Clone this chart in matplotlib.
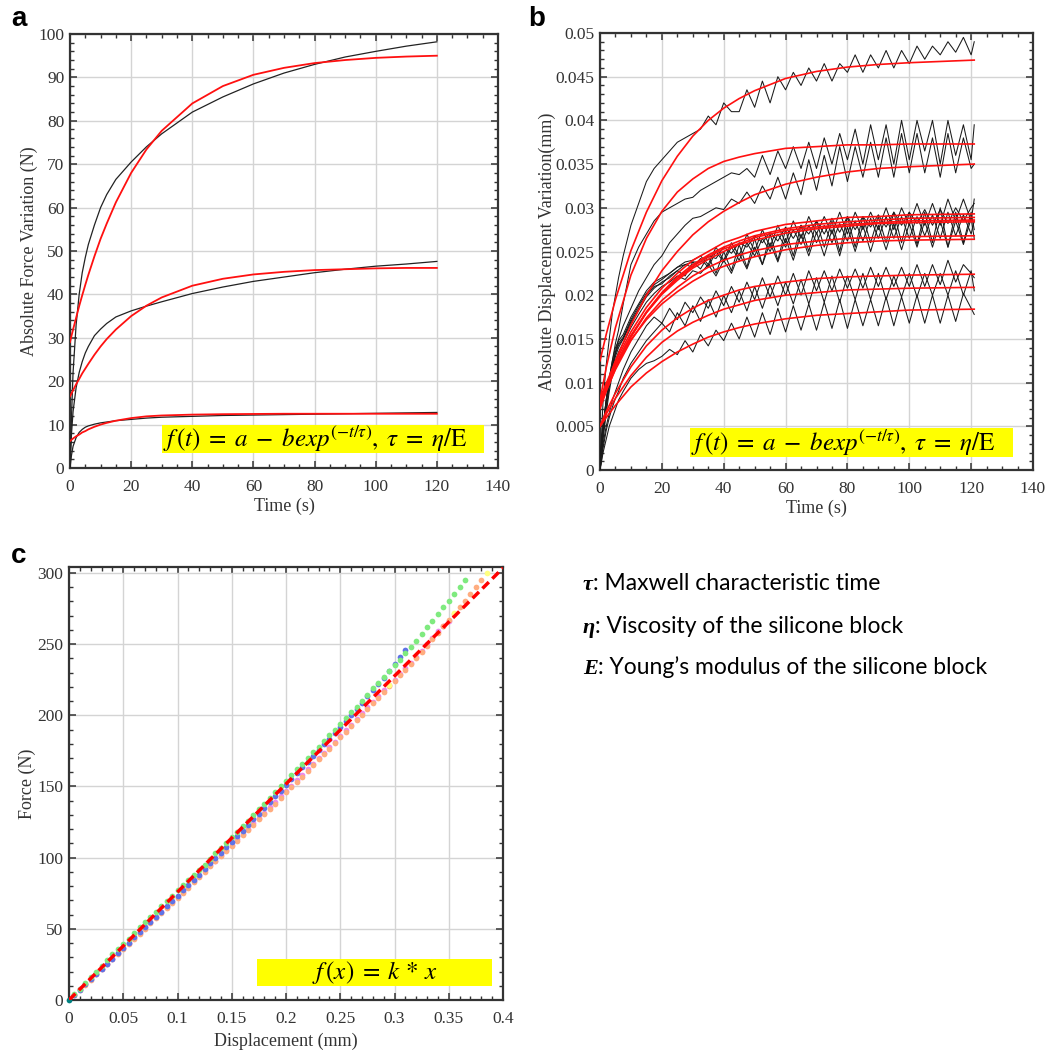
import numpy as np
import matplotlib
matplotlib.use('Agg')
from matplotlib import pyplot as plt
from matplotlib.patches import Rectangle
from matplotlib.ticker import MultipleLocator, FormatStrFormatter

plt.rcParams['font.family'] = 'Liberation Serif'
plt.rcParams['mathtext.fontset'] = 'stix'

# ---- panel a: force relaxation (black = measured, red = fit) ----
t_a = [0, 0.5, 1, 2, 3, 4, 5, 6, 8, 10, 12, 15, 20, 25, 30, 40, 50, 60, 70, 80, 90, 100, 110, 120]
force_meas = [
    [0, 12, 22, 33, 40, 45, 48.5, 51.5, 56, 60, 63, 66.5, 70.5, 74, 77, 82, 85.5, 88.5, 91, 93, 94.7, 96, 97.2, 98.2],
    [0, 8, 13, 18.5, 22, 24.5, 26.5, 28, 30.5, 32, 33.3, 34.8, 36.2, 37.3, 38.3, 40.2, 41.7, 43.0, 44.0, 45.0, 45.8, 46.5, 47.0, 47.6],
    [0, 3, 5, 7, 8.2, 8.9, 9.4, 9.7, 10.1, 10.4, 10.6, 10.9, 11.2, 11.5, 11.7, 11.9, 12.1, 12.2, 12.3, 12.4, 12.5, 12.6, 12.7, 12.8],
]
force_fit = [
    [29.0, 30.5, 31.9, 34.6, 37.3, 39.8, 42.2, 44.5, 48.8, 52.8, 56.3, 61.2, 68.0, 73.4, 77.7, 84.0, 88.0, 90.6, 92.2, 93.3, 94.0, 94.5, 94.8, 95.0],
    [16.5, 17.2, 17.9, 19.3, 20.5, 21.8, 22.9, 24.0, 26.1, 28.0, 29.7, 31.9, 35.0, 37.4, 39.3, 42.0, 43.6, 44.6, 45.2, 45.6, 45.8, 46.0, 46.1, 46.1],
    [6.2, 6.5, 6.8, 7.3, 7.7, 8.2, 8.5, 8.9, 9.5, 10.0, 10.4, 10.9, 11.5, 11.9, 12.1, 12.3, 12.4, 12.45, 12.5, 12.5, 12.5, 12.5, 12.5, 12.5],
]

# ---- panel b: displacement creep ----
t_b = [0, 0.5, 1, 2, 3, 4, 5, 6, 7.5,
       10, 12.5, 15, 17.5, 20, 22.5, 25, 27.5, 30, 32.5,
       35, 37.5, 40, 42.5, 45, 47.5, 50, 52.5, 55, 57.5,
       60, 62.5, 65, 67.5, 70, 72.5, 75, 77.5, 80, 82.5,
       85, 87.5, 90, 92.5, 95, 97.5, 100, 102.5, 105, 107.5,
       110, 112.5, 115, 117.5, 120, 121]
disp_meas = [
    [0, 0.004, 0.008, 0.012, 0.015, 0.018, 0.020, 0.022, 0.0245,
     0.028, 0.0305, 0.033, 0.0345, 0.0355, 0.0365, 0.0375, 0.038, 0.0385, 0.039,
     0.0405, 0.0395, 0.042, 0.041, 0.041, 0.0435, 0.0415, 0.0445, 0.042, 0.045,
     0.0435, 0.0455, 0.044, 0.046, 0.0445, 0.0465, 0.0445, 0.0465, 0.0455, 0.0475,
     0.0455, 0.0475, 0.046, 0.048, 0.046, 0.048, 0.0465, 0.0485, 0.047, 0.0485,
     0.0475, 0.049, 0.0478, 0.0495, 0.0475, 0.049],
    [0, 0.003, 0.005, 0.008, 0.0105, 0.0125, 0.0145, 0.016, 0.019,
     0.0235, 0.0255, 0.027, 0.0285, 0.0295, 0.030, 0.0305, 0.031, 0.0312, 0.032,
     0.0325, 0.033, 0.0335, 0.034, 0.0338, 0.0345, 0.0335, 0.036, 0.0338, 0.0365,
     0.0345, 0.037, 0.0345, 0.0375, 0.0345, 0.038, 0.035, 0.0385, 0.0355, 0.039,
     0.035, 0.0395, 0.0355, 0.0395, 0.035, 0.040, 0.0355, 0.040, 0.0365, 0.040,
     0.035, 0.040, 0.036, 0.0395, 0.0355, 0.0395],
    [0, 0.003, 0.005, 0.008, 0.010, 0.012, 0.0135, 0.015, 0.0165,
     0.0185, 0.0205, 0.022, 0.0235, 0.0245, 0.026, 0.027, 0.028, 0.0288, 0.029,
     0.0295, 0.030, 0.0298, 0.031, 0.0305, 0.0318, 0.0305, 0.0325, 0.031, 0.0335,
     0.031, 0.034, 0.0315, 0.0355, 0.032, 0.036, 0.0325, 0.037, 0.033, 0.037,
     0.0335, 0.0375, 0.0335, 0.038, 0.0335, 0.0385, 0.034, 0.0385, 0.034, 0.038,
     0.0335, 0.0385, 0.034, 0.038, 0.0345, 0.035],
    [0, 0.003, 0.005, 0.008, 0.0105, 0.0125, 0.014, 0.0148, 0.0155,
     0.0175, 0.019, 0.0205, 0.0215, 0.022, 0.0225, 0.0232, 0.0238, 0.024, 0.0245,
     0.0235, 0.0255, 0.024, 0.026, 0.0245, 0.027, 0.025, 0.0275, 0.0255, 0.028,
     0.026, 0.0285, 0.0265, 0.029, 0.027, 0.029, 0.027, 0.0295, 0.027, 0.0295,
     0.0275, 0.0295, 0.0275, 0.030, 0.0275, 0.030, 0.028, 0.0305, 0.028, 0.0305,
     0.028, 0.031, 0.0285, 0.031, 0.0285, 0.031],
    [0, 0.002, 0.004, 0.007, 0.0095, 0.0115, 0.013, 0.014, 0.015,
     0.0168, 0.0183, 0.0198, 0.0208, 0.0215, 0.022, 0.0228, 0.0222, 0.0238, 0.023,
     0.0245, 0.0225, 0.025, 0.0228, 0.0258, 0.0232, 0.0265, 0.0235, 0.027, 0.024,
     0.0275, 0.0245, 0.028, 0.025, 0.0285, 0.0255, 0.0285, 0.025, 0.029, 0.0255,
     0.029, 0.026, 0.029, 0.026, 0.0295, 0.026, 0.0295, 0.0258, 0.0295, 0.026,
     0.030, 0.0255, 0.0295, 0.026, 0.0295, 0.0275],
    [0, 0.0025, 0.0045, 0.0075, 0.010, 0.012, 0.0135, 0.0145, 0.0152,
     0.0172, 0.0188, 0.0202, 0.0212, 0.0218, 0.0225, 0.0232, 0.0235, 0.0238, 0.0238,
     0.0245, 0.0242, 0.0255, 0.0248, 0.026, 0.0255, 0.0268, 0.026, 0.0272, 0.0262,
     0.0278, 0.0265, 0.028, 0.027, 0.0285, 0.027, 0.0288, 0.0272, 0.029, 0.0275,
     0.029, 0.0278, 0.0292, 0.0278, 0.0295, 0.028, 0.0295, 0.0282, 0.0298, 0.028,
     0.0298, 0.0282, 0.030, 0.0285, 0.030, 0.0305],
    [0, 0.0015, 0.0035, 0.0065, 0.009, 0.011, 0.0125, 0.0135, 0.0145,
     0.0163, 0.0178, 0.0192, 0.0202, 0.021, 0.0215, 0.0222, 0.0218, 0.0228, 0.0225,
     0.0235, 0.0222, 0.024, 0.0225, 0.0248, 0.023, 0.0255, 0.0235, 0.026, 0.0238,
     0.0265, 0.024, 0.027, 0.0245, 0.0272, 0.0245, 0.0275, 0.0245, 0.0278, 0.025,
     0.028, 0.025, 0.028, 0.0252, 0.0282, 0.0252, 0.0282, 0.0255, 0.0285, 0.0255,
     0.0285, 0.0255, 0.0285, 0.0258, 0.0288, 0.0265],
    [0, 0.002, 0.0045, 0.0075, 0.0098, 0.0118, 0.0133, 0.0143, 0.015,
     0.017, 0.0185, 0.020, 0.021, 0.0213, 0.0222, 0.0228, 0.0235, 0.0232, 0.0242,
     0.0232, 0.025, 0.0238, 0.0255, 0.024, 0.026, 0.0245, 0.0265, 0.025, 0.027,
     0.0255, 0.0275, 0.0258, 0.028, 0.026, 0.028, 0.026, 0.0282, 0.0262, 0.0285,
     0.0262, 0.0288, 0.0265, 0.029, 0.0265, 0.029, 0.0265, 0.029, 0.0268, 0.0292,
     0.0265, 0.0295, 0.0268, 0.0292, 0.027, 0.0285],
    [0, 0.0015, 0.003, 0.005, 0.0065, 0.008, 0.009, 0.010, 0.0115,
     0.0135, 0.015, 0.0165, 0.0175, 0.0168, 0.0185, 0.0172, 0.0192, 0.018, 0.0198,
     0.0185, 0.0205, 0.0188, 0.021, 0.0192, 0.0215, 0.0195, 0.022, 0.0198, 0.0222,
     0.020, 0.0225, 0.020, 0.0228, 0.0205, 0.0228, 0.0205, 0.023, 0.0208, 0.023,
     0.0208, 0.0232, 0.021, 0.0232, 0.021, 0.0232, 0.021, 0.0235, 0.021, 0.0235,
     0.0212, 0.024, 0.0215, 0.0235, 0.0225, 0.022],
    [0, 0.0012, 0.0025, 0.0045, 0.006, 0.0072, 0.0082, 0.009, 0.0105,
     0.0122, 0.0135, 0.0148, 0.0158, 0.0168, 0.0158, 0.018, 0.0165, 0.0188, 0.017,
     0.0195, 0.0175, 0.020, 0.018, 0.0205, 0.0182, 0.021, 0.0185, 0.0212, 0.0188,
     0.0215, 0.019, 0.0218, 0.019, 0.022, 0.0192, 0.0222, 0.0192, 0.0222, 0.0195,
     0.0225, 0.0195, 0.0225, 0.0195, 0.0222, 0.0198, 0.0225, 0.0198, 0.0225, 0.020,
     0.0225, 0.020, 0.0228, 0.020, 0.0228, 0.0205],
    [0, 0.001, 0.002, 0.0035, 0.005, 0.006, 0.007, 0.008, 0.009,
     0.0105, 0.0115, 0.0122, 0.0125, 0.013, 0.0138, 0.0132, 0.0148, 0.0135, 0.0155,
     0.0142, 0.016, 0.0148, 0.0168, 0.015, 0.0175, 0.0152, 0.018, 0.0155, 0.0185,
     0.0158, 0.0188, 0.016, 0.019, 0.016, 0.0192, 0.0162, 0.0195, 0.0162, 0.0195,
     0.0165, 0.0195, 0.0165, 0.0198, 0.0165, 0.0198, 0.0168, 0.020, 0.0168, 0.020,
     0.0168, 0.020, 0.017, 0.0202, 0.0185, 0.0178],
]
t_b_fit = [0, 2, 5, 10, 15, 20, 25, 30, 35, 40, 45, 50, 60, 70, 80, 90, 100, 121]
disp_fit = [
    [0.0125, 0.0155, 0.0195, 0.0251, 0.0295, 0.0331, 0.0359, 0.0382, 0.0400, 0.0414, 0.0425, 0.0434, 0.0448, 0.0456, 0.0461, 0.0464, 0.0466, 0.0469],
    [0.0080, 0.0117, 0.0163, 0.0223, 0.0265, 0.0296, 0.0318, 0.0333, 0.0345, 0.0353, 0.0358, 0.0362, 0.0368, 0.0370, 0.0372, 0.0372, 0.0373, 0.0373],
    [0.0075, 0.0096, 0.0125, 0.0166, 0.0200, 0.0228, 0.0250, 0.0269, 0.0284, 0.0296, 0.0306, 0.0315, 0.0327, 0.0335, 0.0341, 0.0345, 0.0347, 0.0350],
    [0.0080, 0.0099, 0.0124, 0.0158, 0.0186, 0.0208, 0.0225, 0.0240, 0.0250, 0.0260, 0.0266, 0.0273, 0.0281, 0.0285, 0.0289, 0.0290, 0.0292, 0.0293],
    [0.0075, 0.0094, 0.0119, 0.0153, 0.0181, 0.0203, 0.0221, 0.0235, 0.0246, 0.0255, 0.0262, 0.0268, 0.0276, 0.0281, 0.0284, 0.0286, 0.0288, 0.0289],
    [0.0070, 0.0090, 0.0116, 0.0152, 0.0180, 0.0202, 0.0219, 0.0233, 0.0244, 0.0253, 0.0259, 0.0266, 0.0274, 0.0278, 0.0281, 0.0283, 0.0285, 0.0286],
    [0.0078, 0.0097, 0.0121, 0.0154, 0.0180, 0.0201, 0.0217, 0.0231, 0.0241, 0.0250, 0.0258, 0.0263, 0.0271, 0.0276, 0.0279, 0.0282, 0.0283, 0.0284],
    [0.0072, 0.0091, 0.0115, 0.0148, 0.0174, 0.0194, 0.0209, 0.0222, 0.0232, 0.0240, 0.0246, 0.0251, 0.0258, 0.0262, 0.0265, 0.0266, 0.0267, 0.0268],
    [0.0080, 0.0097, 0.0119, 0.0149, 0.0172, 0.0190, 0.0204, 0.0216, 0.0226, 0.0233, 0.0239, 0.0244, 0.0252, 0.0257, 0.0260, 0.0262, 0.0263, 0.0264],
    [0.0050, 0.0067, 0.0088, 0.0118, 0.0142, 0.0160, 0.0174, 0.0185, 0.0194, 0.0200, 0.0206, 0.0210, 0.0215, 0.0219, 0.0221, 0.0222, 0.0223, 0.0224],
    [0.0050, 0.0064, 0.0082, 0.0108, 0.0129, 0.0146, 0.0159, 0.0169, 0.0177, 0.0184, 0.0189, 0.0194, 0.0200, 0.0203, 0.0206, 0.0207, 0.0208, 0.0209],
    [0.0050, 0.0060, 0.0074, 0.0095, 0.0111, 0.0124, 0.0135, 0.0144, 0.0152, 0.0158, 0.0163, 0.0167, 0.0173, 0.0177, 0.0179, 0.0181, 0.0183, 0.0184],
]

# ---- panel c: force vs displacement ----
disp_c = [0.005, 0.01, 0.015, 0.02, 0.025, 0.03, 0.035, 0.04, 0.045, 0.05,
          0.055, 0.06, 0.065, 0.07, 0.075, 0.08, 0.085, 0.09, 0.095, 0.1,
          0.105, 0.11, 0.115, 0.12, 0.125, 0.13, 0.135, 0.14, 0.145, 0.15,
          0.155, 0.16, 0.165, 0.17, 0.175, 0.18, 0.185, 0.19, 0.195, 0.2,
          0.205, 0.21, 0.215, 0.22, 0.225, 0.23, 0.235, 0.24, 0.245, 0.25,
          0.255, 0.26, 0.265, 0.27, 0.275, 0.28, 0.285, 0.29, 0.295, 0.3,
          0.305, 0.31, 0.315, 0.32, 0.325, 0.33, 0.335, 0.34, 0.345, 0.35,
          0.355, 0.36, 0.365, 0.37, 0.375, 0.38, 0.385]
force_green = [4, 8, 12, 16, 20, 24, 28, 32, 36, 39.5,
               43, 47, 51, 55, 58.5, 62, 66, 69.5, 73, 77,
               80.5, 84, 88, 91.5, 95, 99, 103, 107, 110.5, 114.5,
               118, 122, 126, 130, 134, 138, 142, 146, 150, 154,
               158, 162, 166, 170, 174, 178, 182, 186, 190, 194,
               198, 202, 206, 210, 214.5, 219, 223, 227, 231, 235,
               239, 244, 248, 252.5, 257, 262, 266.5, 271, 276, 280.5,
               285, 290, 295]
force_blue = [3.5, 7, 11, 14.5, 18, 22, 25.5, 29, 33, 36.5,
              40, 44, 47.5, 51, 55, 58.5, 62, 66, 69.5, 73,
              77, 81, 84.5, 88, 92, 96, 100, 103.5, 107.5, 111,
              115, 119, 123, 127, 131, 135, 139, 143, 147, 151,
              155, 159.5, 163.5, 167.5, 171.5, 175.5, 179.5, 183.5, 187.5, 191.5,
              196, 200, 204.5, 209, 213.5, 217.5, 222, 226.5, 231, 236,
              241, 246]
force_orange = [3.5, 7, 10.5, 14, 18, 21.5, 25, 28.5, 32, 36,
                39.5, 43, 46.5, 50, 54, 57.5, 61, 64.5, 68, 72,
                75.5, 79, 83, 86.5, 90, 94, 97.5, 101, 105, 108.5,
                112, 116, 119.5, 123, 127, 130.5, 134.5, 138, 142, 146,
                149.5, 153.5, 157, 161, 165, 169, 172.5, 176.5, 180.5, 184.5,
                188.5, 192.5, 196.5, 200.5, 204.5, 208.5, 212.5, 216.5, 220.5, 224,
                228, 232, 236, 240, 244.5, 249, 253.5, 258, 262.5, 267,
                271.5, 276, 280.5, 285, 290, 295]
force_pink = [3.5, 7.5, 11, 15, 18.5, 22, 25.5, 29, 33, 36.5,
              40, 43.5, 47, 51, 54.5, 58, 61.5, 65, 69, 72.5,
              76, 80, 83.5, 87, 91, 94.5, 98, 102, 105.5, 109,
              113, 116.5, 120, 124, 128, 131.5, 135.5, 139, 143, 147,
              150.5, 154.5, 158, 162, 166, 170, 173.5, 177.5, 181.5, 185.5,
              189.5, 193.5, 197.5, 201.5, 205.5, 209.5, 213.5, 217.5, 221.5, 225,
              229, 233, 237, 241, 245.5, 250, 254.5, 259, 263, 266.5]
yellow_x = [0.295, 0.355, 0.385]
yellow_y = [221, 272, 300]
fit_x = [0, 0.4]
fit_y = [0, 303.5]

W, H = 1059, 1054
fig = plt.figure(figsize=(W / 100, H / 100), dpi=100)


def add_ax(left, top, right, bottom):
    return fig.add_axes([left / W, 1 - bottom / H, (right - left) / W, (bottom - top) / H])


def style(ax, xmaj, xmin, ymaj, ymin):
    ax.xaxis.set_major_locator(MultipleLocator(xmaj))
    ax.xaxis.set_minor_locator(MultipleLocator(xmin))
    ax.yaxis.set_major_locator(MultipleLocator(ymaj))
    ax.yaxis.set_minor_locator(MultipleLocator(ymin))
    ax.xaxis.set_major_formatter(FormatStrFormatter('%g'))
    ax.yaxis.set_major_formatter(FormatStrFormatter('%g'))
    ax.tick_params(which='both', direction='in', top=True, right=True, colors='#333333',
                   labelcolor='#333333', labelsize=12.5)
    ax.tick_params(which='major', length=5, width=1.1)
    ax.tick_params(which='minor', length=3, width=1.0)
    ax.tick_params(axis='x', which='major', pad=8)
    ax.tick_params(axis='y', which='major', pad=4)
    ax.grid(True, which='major', color='#d4d4d4', lw=1.0)
    ax.set_axisbelow(True)
    for s in ax.spines.values():
        s.set_color('#333333')
        s.set_linewidth(1.6)


def formula_box(ax, x0, y0, x1, y1, txt, ha='left'):
    ax.add_patch(Rectangle((x0, y0), x1 - x0, y1 - y0, transform=ax.transAxes,
                           facecolor='#ffff00', edgecolor='none', zorder=5))
    tx = x0 + 0.003 if ha == 'left' else (x0 + x1) / 2
    ax.text(tx, (y0 + y1) / 2, txt, transform=ax.transAxes, ha=ha, va='center',
            fontsize=18, zorder=6)


eq_t = r'$f\,(t)\;=\;a\;-\;bexp^{(-t/\tau)},\;\tau\;=\;\eta/\mathrm{E}$'

# panel a
ax_a = add_ax(70, 34, 498, 468)
for y in force_meas:
    ax_a.plot(t_a, y, color='#222222', lw=0.9, zorder=3)
for y in force_fit:
    ax_a.plot(t_a, y, color='#ff1010', lw=1.3, zorder=4)
ax_a.set_xlim(0, 140)
ax_a.set_ylim(0, 100)
style(ax_a, 20, 5, 10, 2)
ax_a.set_xlabel('Time (s)', fontsize=13, color='#333333', labelpad=2)
ax_a.set_ylabel('Absolute Force Variation (N)', fontsize=13, color='#333333', labelpad=0)
formula_box(ax_a, 0.215, 0.035, 0.967, 0.099, eq_t)

# panel b
ax_b = add_ax(600, 33, 1033, 470)
for y in disp_meas:
    ax_b.plot(t_b, y, color='#1a1a1a', lw=0.75, zorder=3)
for y in disp_fit:
    ax_b.plot(t_b_fit, y, color='#ff1010', lw=1.2, zorder=4)
ax_b.set_xlim(0, 140)
ax_b.set_ylim(0, 0.05)
style(ax_b, 20, 5, 0.005, 0.001)
ax_b.set_xlabel('Time (s)', fontsize=13, color='#333333', labelpad=2)
ax_b.set_ylabel('Absolute Displacement Variation(mm)', fontsize=13, color='#333333', labelpad=0)
formula_box(ax_b, 0.208, 0.030, 0.954, 0.096, eq_t)

# panel c
ax_c = add_ax(69, 567, 503, 1000)
n = len(force_pink)
ax_c.scatter(disp_c[:n], force_pink, s=17, color='#ee88ee', lw=0, zorder=3)
n = len(force_orange)
ax_c.scatter(disp_c[:n], force_orange, s=17, color='#ffad80', lw=0, zorder=3)
ax_c.scatter(yellow_x, yellow_y, s=17, color='#ffff80', lw=0, zorder=3)
n = len(force_blue)
ax_c.scatter(disp_c[:n], force_blue, s=17, color='#5f73e6', lw=0, zorder=3)
n = len(force_green)
ax_c.scatter(disp_c[:n], force_green, s=17, color='#7fea7f', lw=0, zorder=3)
ax_c.scatter([0], [0], s=17, color='#008080', lw=0, zorder=3, clip_on=False)
ax_c.plot(fit_x, fit_y, color='#ff0000', lw=2.5, dashes=(2.6, 1.4), zorder=4)
ax_c.set_xlim(0, 0.4)
ax_c.set_ylim(0, 304.2)
style(ax_c, 0.05, 0.01, 50, 10)
ax_c.set_xlabel('Displacement (mm)', fontsize=13, color='#333333', labelpad=4)
ax_c.set_ylabel('Force (N)', fontsize=13, color='#333333', labelpad=1)
formula_box(ax_c, 0.433, 0.032, 0.975, 0.095, r'$f\,(x)\;=\;k\,*\,x$', ha='center')

# panel letters
for letter, x, y in [('a', 11, 26), ('b', 528, 26), ('c', 11, 563)]:
    fig.text(x / W, 1 - y / H, letter, family='Liberation Sans', weight='bold', fontsize=20)

# symbol notes on the right
notes = [('τ', ': Maxwell characteristic time', 590),
         ('η', ': Viscosity of the silicone block', 633),
         ('E', ': Young\u2019s modulus of the silicone block', 674)]
for sym, rest, y in notes:
    st = fig.text(583 / W, 1 - y / H, sym, family='Liberation Serif', weight='bold',
                  style='italic', fontsize=16, va='baseline')
    ax_a.annotate(rest, xy=(1, 1 - y / H), xycoords=(st, 'figure fraction'),
                  family='Lato', fontsize=16.5, va='baseline', ha='left', annotation_clip=False)

fig.savefig('out.png', dpi=100)
